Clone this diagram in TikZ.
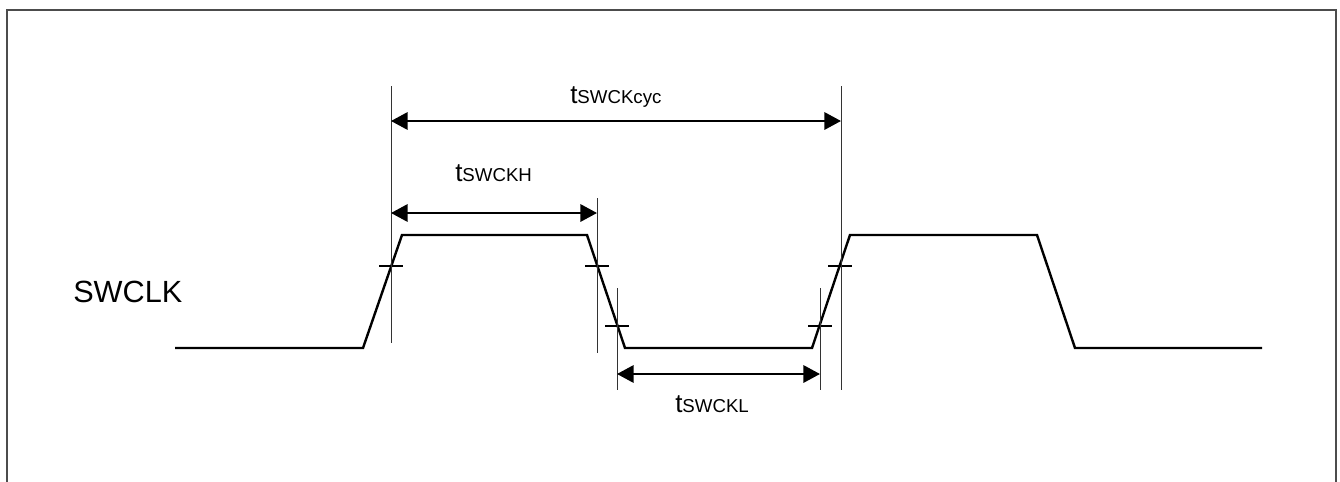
\documentclass[tikz,border=0pt]{standalone}
\usepackage{fontspec}
\setmainfont{Liberation Sans}
\usetikzlibrary{calc,arrows.meta}

\newcommand{\tname}[1]{{\fontsize{19.5}{20}\selectfont t}{\fontsize{14}{15}\selectfont #1}}

\begin{document}
\begin{tikzpicture}[x=0.75pt, y=-0.75pt, line cap=butt, line join=miter,
  sig/.style={line width=1.8pt},
  guide/.style={line width=0.6pt, black!80},
  tickmark/.style={line width=1.5pt},
  dimline/.style={line width=1.8pt,
    {Triangle[length=12.5pt,width=13pt]}-{Triangle[length=12.5pt,width=13pt]}}]
  \useasboundingbox (0,0) rectangle (1340,482);
  \draw[line width=0.8pt, black!70] (7,482) -- (7,10) -- (1336,10) -- (1336,482);
  % clock waveform
  \coordinate (s0) at (175,348);
  \coordinate (s1) at (363,348);
  \coordinate (s2) at (402,235);
  \coordinate (s3) at (587,235);
  \coordinate (s4) at (625,348);
  \coordinate (s5) at (812,348);
  \coordinate (s6) at (850,235);
  \coordinate (s7) at (1037,235);
  \coordinate (s8) at (1075,348);
  \coordinate (s9) at (1262,348);
  \draw[sig] (s0) -- (s1) -- (s2) -- (s3) -- (s4) -- (s5) -- (s6) -- (s7) -- (s8) -- (s9);
  % threshold crossings
  \coordinate (c1) at (391,266);
  \coordinate (c2) at (597,266);
  \coordinate (c3) at (617,326);
  \coordinate (c4) at (820,326);
  \coordinate (c5) at (840,266);
  \foreach \c in {c1,c2,c3,c4,c5}
    \draw[tickmark] ($(\c)+(-12,0)$) -- ($(\c)+(12,0)$);
  % guide lines
  \draw[guide] (391,86) -- (391,343);
  \draw[guide] (597,198) -- (597,353);
  \draw[guide] (617,288) -- (617,390);
  \draw[guide] (820,288) -- (820,390);
  \draw[guide] (841,86) -- (841,390);
  % dimensions
  \coordinate (cycL) at (391,121);
  \coordinate (cycR) at (841,121);
  \coordinate (hiL) at (391,213);
  \coordinate (hiR) at (597,213);
  \coordinate (loL) at (617,374);
  \coordinate (loR) at (820,374);
  \draw[dimline] (cycL) -- (cycR);
  \draw[dimline] (hiL) -- (hiR);
  \draw[dimline] (loL) -- (loR);
  \node[anchor=base west, inner sep=0pt] (tcyc) at (570,103) {\tname{SWCKcyc}};
  \node[anchor=base west, inner sep=0pt] (thigh) at (455,181) {\tname{SWCKH}};
  \node[anchor=base west, inner sep=0pt] (tlow) at (675,412) {\tname{SWCKL}};
  \node[anchor=base west, inner sep=0pt] (swclk) at (73,302) {\fontsize{23}{25}\selectfont SWCLK};
\end{tikzpicture}
\end{document}
